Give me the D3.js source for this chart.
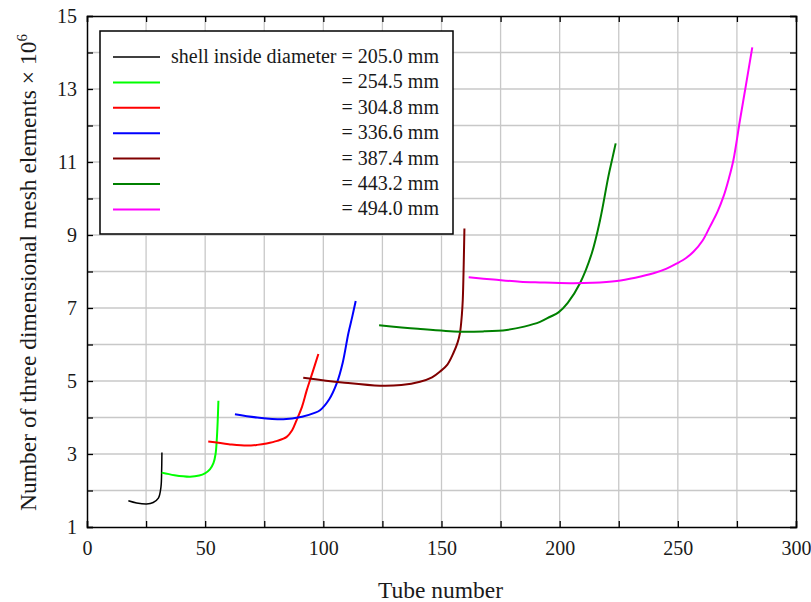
<!DOCTYPE html>
<meta charset="utf-8">
<style>
    body { margin: 0; background: #fff; }
</style>
<body>
<div id="chart"></div>
<script src="https://d3js.org/d3.v7.min.js"></script>
<script>
    // tube number vs mesh elements (x 10^6)
    var d205 = [[17.5, 1.72], [21, 1.66], [25.2, 1.63], [28, 1.67], [30.2, 1.79], [31.3, 2.1], [31.6, 2.6], [31.7, 3.04]]
    var d254 = [[31.6, 2.49], [37, 2.42], [43.6, 2.38], [47.5, 2.41], [49.9, 2.47], [52, 2.58], [53.5, 2.75], [54.4, 3.0], [54.9, 3.38], [55.3, 3.9], [55.6, 4.46]]
    var d304 = [[51.3, 3.34], [60, 3.27], [67.6, 3.23], [72, 3.25], [76, 3.29], [80.5, 3.36], [84.5, 3.47], [86.8, 3.65], [88.7, 3.93], [91, 4.3], [93, 4.75], [95.5, 5.25], [97.9, 5.74]]
    var d336 = [[62.6, 4.09], [72, 4.0], [83.1, 3.95], [91, 4.02], [96, 4.12], [98.6, 4.2], [102.5, 4.5], [105.7, 4.94], [108.2, 5.5], [110.6, 6.31], [112.2, 6.75], [113.7, 7.19]]
    var d387 = [[91.5, 5.09], [108, 4.96], [124, 4.87], [133, 4.89], [140.9, 4.98], [146, 5.1], [149.4, 5.26], [152.5, 5.45], [155, 5.76], [156.8, 6.05], [157.8, 6.31], [158.6, 6.8], [159, 7.22], [159.4, 8.2], [159.7, 9.18]]
    var d443 = [[123.6, 6.53], [140, 6.43], [157.8, 6.35], [168, 6.36], [177.6, 6.40], [185, 6.49], [191.7, 6.62], [196, 6.76], [199.5, 6.88], [203.5, 7.15], [208.6, 7.68], [213.6, 8.50], [217.1, 9.41], [220.6, 10.6], [222.3, 11.1], [223.7, 11.51]]
    var d494 = [[161.5, 7.84], [172, 7.78], [183.2, 7.72], [191.7, 7.70], [204.4, 7.68], [214, 7.69], [224.2, 7.74], [232, 7.83], [239.7, 7.95], [245, 8.07], [249.6, 8.22], [253.5, 8.37], [256.6, 8.54], [260.5, 8.85], [263.6, 9.23], [266.8, 9.64], [269.3, 10.05], [271.6, 10.55], [273.5, 11.05], [276.3, 12.15], [278.8, 13.1], [281.5, 14.14]]

    var labels = ['205.0', '254.5', '304.8', '336.6', '387.4', '443.2', '494.0']
    var colors = ['#000000', '#00ff00', '#ff0000', '#0000ff', '#800000', '#008000', '#ff00ff']
    var allData = [d205, d254, d304, d336, d387, d443, d494]

    var xTicks = [0, 50, 100, 150, 200, 250, 300]
    var yTicks = [1, 3, 5, 7, 9, 11, 13, 15]

    var FONT = "'Liberation Serif', 'Times New Roman', serif"
    var W = 811, H = 602
    var margin = { top: 16, right: 15, bottom: 75, left: 87 }
    var width = W - margin.left - margin.right
    var height = H - margin.top - margin.bottom

    var svg = d3.select('#chart').append('svg')
        .attr('width', W)
        .attr('height', H)
    var g = svg.append('g')
        .attr('transform', 'translate(' + margin.left + ',' + margin.top + ')')

    var x = d3.scaleLinear().domain([0, 300]).range([0, width])
    var y = d3.scaleLinear().domain([1, 15]).range([height, 0])

    // grid
    g.append('g').selectAll('line')
        .data(d3.range(25, 300, 25))
        .enter().append('line')
        .attr('x1', function (d) { return x(d) }).attr('x2', function (d) { return x(d) })
        .attr('y1', 0).attr('y2', height)
        .style('stroke', '#c8c8c8').style('stroke-width', 1.3)
    g.append('g').selectAll('line')
        .data(d3.range(2, 15, 1))
        .enter().append('line')
        .attr('y1', function (d) { return y(d) }).attr('y2', function (d) { return y(d) })
        .attr('x1', 0).attr('x2', width)
        .style('stroke', '#c8c8c8').style('stroke-width', 1.3)

    // axes with inward ticks
    var fmt = function (d) { return xTicks.indexOf(d) >= 0 ? d : '' }
    var fmtY = function (d) { return yTicks.indexOf(d) >= 0 ? d : '' }
    var gx = g.append('g').attr('transform', 'translate(0,' + height + ')')
        .call(d3.axisBottom(x).tickValues(d3.range(0, 301, 25)).tickSize(-6).tickFormat(fmt))
    gx.selectAll('.tick text').attr('y', 28).attr('dy', 0)
    var gxt = g.append('g')
        .call(d3.axisTop(x).tickValues(d3.range(0, 301, 25)).tickSize(-6).tickFormat(''))
    var gy = g.append('g')
        .call(d3.axisLeft(y).tickValues(d3.range(1, 16, 1)).tickSize(-6).tickPadding(10).tickFormat(fmtY))
    var gyr = g.append('g').attr('transform', 'translate(' + width + ',0)')
        .call(d3.axisRight(y).tickValues(d3.range(1, 16, 1)).tickSize(-6).tickFormat(''))
    ;[gx, gxt, gy, gyr].forEach(function (a) {
        a.attr('font-family', null)
        a.select('.domain').style('stroke', '#000').style('stroke-width', 1.5)
        a.selectAll('.tick line').style('stroke', '#000').style('stroke-width', 1.3)
        a.selectAll('.tick text').style('font-family', FONT).style('font-size', '20px').style('fill', '#1a1a1a')
    })

    // curves
    var line = d3.line()
        .x(function (d) { return x(d[0]) })
        .y(function (d) { return y(d[1]) })
        .curve(d3.curveCatmullRom.alpha(0.5))
    allData.forEach(function (data, i) {
        g.append('path')
            .datum(data)
            .attr('d', line)
            .style('fill', 'none')
            .style('stroke', colors[i])
            .style('stroke-width', i === 0 ? 1.5 : 2)
    })

    // legend
    var lg = svg.append('g')
    lg.append('rect')
        .attr('x', 100).attr('y', 31).attr('width', 353).attr('height', 203)
        .style('fill', '#fff').style('stroke', '#000').style('stroke-width', 1.5)
    labels.forEach(function (lab, i) {
        var ly = 57 + i * 25.4
        lg.append('line')
            .attr('x1', 113).attr('x2', 160).attr('y1', ly).attr('y2', ly)
            .style('stroke', colors[i]).style('stroke-width', i === 0 ? 1.5 : 2)
        lg.append('text')
            .attr('x', 439).attr('y', ly + 6)
            .attr('text-anchor', 'end')
            .style('font-family', FONT)
            .style('font-size', '20px')
            .style('fill', '#1a1a1a')
            .text('= ' + lab + ' mm')
    })
    lg.append('text')
        .attr('x', 171).attr('y', 63)
        .style('font-family', FONT)
        .style('font-size', '20px')
        .style('fill', '#1a1a1a')
        .text('shell inside diameter')

    // axis titles
    svg.append('text')
        .attr('x', margin.left + width / 2 - 1).attr('y', 598)
        .attr('text-anchor', 'middle')
        .style('font-family', FONT)
        .style('font-size', '23.5px')
        .style('fill', '#1a1a1a')
        .text('Tube number')
    var yt = svg.append('text')
        .attr('transform', 'translate(36,' + (margin.top + height / 2 + 1) + ') rotate(-90)')
        .attr('text-anchor', 'middle')
        .style('font-family', FONT)
        .style('font-size', '23.5px')
        .style('fill', '#1a1a1a')
    yt.append('tspan').text('Number of three dimensional mesh elements \u00d7 10')
    yt.append('tspan').attr('dy', -9).style('font-size', '15px').text('6')
</script>
</body>
